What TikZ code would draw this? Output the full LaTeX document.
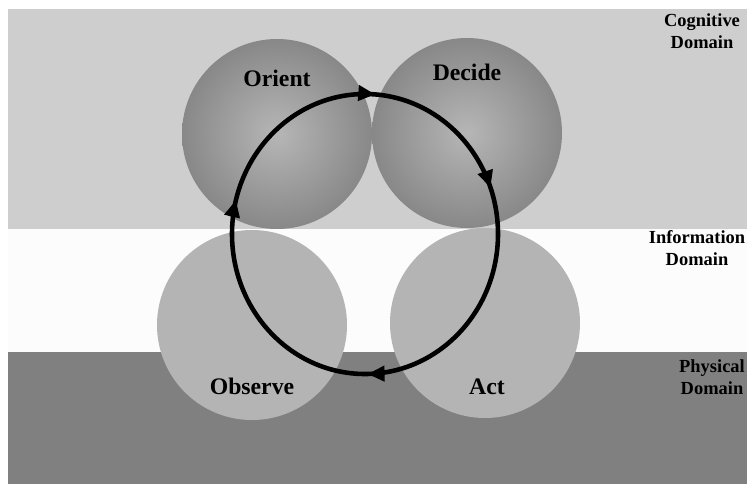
\documentclass[tikz,border=0pt]{standalone}
\usepackage{fontspec}
\setmainfont{Liberation Serif}
\usepackage{tikz}
\usetikzlibrary{calc,decorations.markings,arrows.meta}
\definecolor{oocog}{HTML}{CECECE}
\definecolor{ooinfo}{HTML}{FCFCFC}
\definecolor{oophys}{HTML}{808080}
\definecolor{ooball}{HTML}{B4B4B4}
\definecolor{ooedge}{HTML}{888888}
\definecolor{oolight}{HTML}{B6B6B6}

\begin{document}
\begin{tikzpicture}[
  x=0.2mm, y=-0.2mm,
  font=\bfseries,
  ball/.style={circle, minimum size=38mm, inner sep=0pt, draw=none},
  upball/.style={ball, inner color=oolight, outer color=ooedge},
  lowball/.style={ball, fill=ooball},
  phase/.style={font=\fontsize{13.5}{16}\selectfont\bfseries},
  domlbl/.style={align=center, font=\fontsize{10.5}{12.5}\selectfont\bfseries},
  loopline/.style={line width=2.6pt, draw=black,
    postaction={decorate},
    decoration={markings,
      mark=at position 0.247 with {\arrow{Triangle[length=3.4mm,width=3mm]}},
      mark=at position 0.54 with {\arrow{Triangle[length=3.4mm,width=3mm]}},
      mark=at position 0.762 with {\arrow{Triangle[length=3.4mm,width=3mm]}},
      mark=at position 0.945 with {\arrow{Triangle[length=3.4mm,width=3mm]}}}}
]
\useasboundingbox (0,0) rectangle (747,484);
% Domain bands
\fill[white] (0,0) rectangle (747,484);
\fill[oocog] (8,9) rectangle (747,229);
\fill[ooinfo] (8,229) rectangle (747,352);
\fill[oophys] (8,352) rectangle (747,484);
% OODA circles
\node[upball] (orient) at (277,134) {};
\node[upball] (decide) at (467,133) {};
\node[lowball] (observe) at (252,325) {};
\node[lowball] (act) at (485,323) {};
% Phase labels
\node[phase] (orientlbl) at ($(orient.center)+(0,-56)$) {Orient};
\node[phase] (decidelbl) at ($(decide.center)+(0,-61)$) {Decide};
\node[phase] (observelbl) at ($(observe.center)+(0,61)$) {Observe};
\node[phase] (actlbl) at ($(act.center)+(2,64)$) {Act};
% Loop
\coordinate (loopc) at (365,234);
\draw[loopline] (loopc) ellipse [x radius=133, y radius=140];
% Domain labels
\node[domlbl] (cogn) at (702,31) {Cognitive\\Domain};
\node[domlbl] (info) at (697,248) {Information\\Domain};
\node[domlbl] (phys) at (712,377) {Physical\\Domain};
\end{tikzpicture}
\end{document}
